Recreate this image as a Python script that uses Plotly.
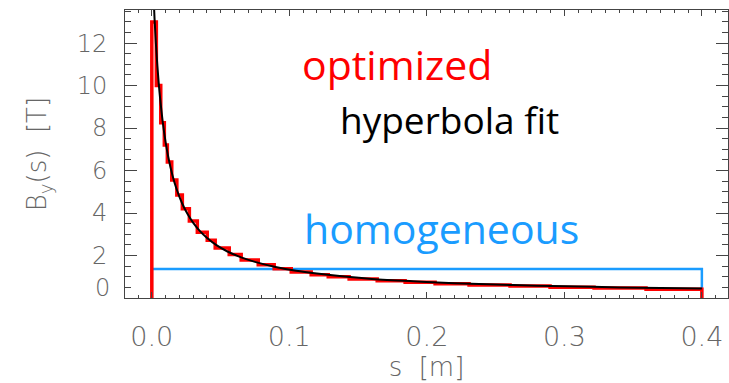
import plotly.graph_objects as go

# --- data ---
fit_s = [0.001, 0.002, 0.003, 0.004, 0.005, 0.006, 0.008, 0.010, 0.012, 0.015,
         0.018, 0.022, 0.026, 0.030, 0.035, 0.040, 0.047, 0.055, 0.065, 0.075,
         0.090, 0.105, 0.120, 0.140, 0.160, 0.190, 0.220, 0.250, 0.280, 0.310,
         0.340, 0.370, 0.400]
fit_B = [14.57, 13.13, 11.95, 10.96, 10.13, 9.42, 8.26, 7.35, 6.63, 5.78,
         5.13, 4.46, 3.95, 3.55, 3.15, 2.84, 2.49, 2.19, 1.91, 1.70,
         1.46, 1.28, 1.15, 1.01, 0.90, 0.79, 0.70, 0.63, 0.58, 0.54,
         0.50, 0.47, 0.45]

opt_edges = [0.0, 0.0033, 0.0065, 0.0091, 0.0113, 0.0145, 0.0182, 0.0222, 0.0273,
             0.0331, 0.0403, 0.0461, 0.0563, 0.0650, 0.0774, 0.0890, 0.1014,
             0.1159, 0.1283, 0.1435, 0.1639, 0.1842, 0.2060, 0.2307, 0.2605,
             0.2896, 0.3216, 0.3594, 0.4]
opt_B = [13.0, 10.0, 8.25, 7.2, 6.4, 5.55, 4.85, 4.2, 3.62, 3.1, 2.72, 2.36, 2.05,
         1.79, 1.56, 1.38, 1.23, 1.10, 1.0, 0.90, 0.81, 0.74, 0.67, 0.61, 0.56,
         0.51, 0.47, 0.41]

hom_s = [0.0, 0.0, 0.4, 0.4]
hom_B = [0.0, 1.37, 1.37, 0.0]

x_ticks = [0.0, 0.1, 0.2, 0.3, 0.4]
x_ticktext = ["0.0", "0.1", "0.2", "0.3", "0.4"]
y_ticks = [2, 4, 6, 8, 10, 12]
y_ticktext = ["2", "4", "6", "8", "10", "12"]

RED = "#ff0000"
BLUE = "#1a9cff"
AX = "#444444"
TXT = "#666666"
TICKFONT = "DejaVu Sans"

# step curve points
opt_x = [opt_edges[0]] + opt_edges[:-1] + [opt_edges[-1], opt_edges[-1]]
opt_y = [0.0] + opt_B + [opt_B[-1], 0.0]

fig = go.Figure()
fig.add_trace(go.Scatter(x=hom_s, y=hom_B, mode="lines",
                         line=dict(color=BLUE, width=2.5), showlegend=False))
fig.add_trace(go.Scatter(x=opt_x, y=opt_y, mode="lines", line_shape="hv",
                         line=dict(color=RED, width=3.5), showlegend=False))
fig.add_trace(go.Scatter(x=fit_s, y=fit_B, mode="lines", line_shape="spline",
                         line=dict(color="black", width=2), showlegend=False))

fig.update_xaxes(range=[-0.0195, 0.419], tickvals=x_ticks, ticktext=x_ticktext,
                 ticks="inside", ticklen=6, tickcolor=AX, tickwidth=1,
                 minor=dict(dtick=0.01, tick0=0, ticks="inside", ticklen=3, tickcolor=AX),
                 showline=True, linecolor=AX, linewidth=1, mirror="allticks",
                 showgrid=False, zeroline=False,
                 tickfont=dict(family=TICKFONT, size=27, color=TXT, weight=200),
                 ticklabelstandoff=15,
                 title=dict(text="s  [m]", standoff=6,
                            font=dict(family=TICKFONT, size=26, color=TXT, weight=200)))
fig.update_yaxes(range=[0, 13.56], tickvals=y_ticks, ticktext=y_ticktext,
                 ticks="inside", ticklen=12, tickcolor=AX, tickwidth=1,
                 minor=dict(dtick=0.5, tick0=0, ticks="inside", ticklen=6, tickcolor=AX),
                 showline=True, linecolor=AX, linewidth=1, mirror="allticks",
                 showgrid=False, zeroline=False,
                 tickfont=dict(family=TICKFONT, size=24, color=TXT, weight=200),
                 ticklabelstandoff=12,
                 title=dict(text="B<sub>y</sub>(s)  [T]", standoff=22,
                            font=dict(family=TICKFONT, size=26, color=TXT, weight=200)))

annots = [
    dict(x=0, xref="paper", y=0, yref="y", text="0", showarrow=False,
         xanchor="right", yanchor="middle", xshift=-13, yshift=10,
         font=dict(family=TICKFONT, size=24, color=TXT, weight=200)),
    dict(x=0.1784, y=11.0, text="optimized", showarrow=False,
         xanchor="center", yanchor="middle",
         font=dict(family="Open Sans", size=41, color=RED)),
    dict(x=0.2162, y=8.4, text="hyperbola fit", showarrow=False,
         xanchor="center", yanchor="middle",
         font=dict(family="Open Sans", size=37, color="black")),
    dict(x=0.2108, y=3.3, text="homogeneous", showarrow=False,
         xanchor="center", yanchor="middle",
         font=dict(family="Open Sans", size=41, color=BLUE)),
]
fig.update_layout(width=729, height=383, margin=dict(l=125, r=1, t=10, b=85),
                  plot_bgcolor="white", paper_bgcolor="white", annotations=annots)

fig.write_html("out.html")
